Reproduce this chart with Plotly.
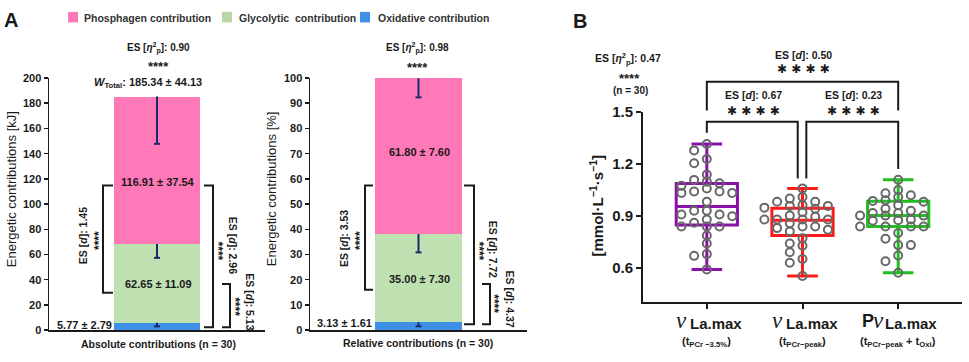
import numpy as np
import plotly.graph_objects as go

W, H = 969, 362
SANS = "Liberation Sans, Arial, sans-serif"
SERIF = "Liberation Serif, Times New Roman, serif"
INK = "#1a1a1a"

# ---------------- data ----------------
# Panel A: energetic contributions, stacked bottom -> top
systems = ["Oxidative contribution", "Glycolytic contribution", "Phosphagen contribution"]
abs_mean = [5.77, 62.65, 116.91]      # kJ
abs_sd = [2.79, 11.09, 37.54]
rel_mean = [3.13, 35.00, 61.80]       # %
rel_sd = [1.61, 7.30, 7.60]
w_total_mean = 185.34
w_total_sd = 44.13
abs_ticks = list(range(0, 201, 20))
rel_ticks = list(range(0, 101, 10))

# Panel B: vLa.max box plots (n = 30)
groups = [0, 1, 2]
box_q1 = [0.846, 0.785, 0.837]
box_median = [0.952, 0.874, 0.900]
box_q3 = [1.085, 0.943, 0.983]
box_min = [0.590, 0.552, 0.570]
box_max = [1.313, 1.057, 1.107]
pts_pcr35 = [1.313, 1.276, 1.226, 1.202, 1.137, 1.106, 1.096, 1.087, 1.072, 1.056,
             1.039, 1.039, 1.031, 1.031, 0.980, 0.928, 0.928, 0.906, 0.906, 0.896,
             0.878, 0.859, 0.837, 0.837, 0.837, 0.785, 0.739, 0.678, 0.668, 0.590]
pts_pcrpeak = [1.057, 1.007, 0.998, 0.980, 0.980, 0.961, 0.956, 0.956, 0.946, 0.940,
               0.920, 0.900, 0.893, 0.878, 0.878, 0.878, 0.878, 0.856, 0.837, 0.837,
               0.828, 0.818, 0.809, 0.770, 0.739, 0.726, 0.689, 0.650, 0.628, 0.552]
pts_oxi = [1.107, 1.048, 1.029, 1.017, 1.007, 0.989, 0.985, 0.980, 0.960, 0.939,
           0.928, 0.915, 0.915, 0.900, 0.900, 0.900, 0.878, 0.874, 0.870, 0.837,
           0.837, 0.837, 0.837, 0.800, 0.767, 0.730, 0.730, 0.670, 0.637, 0.570]
b_ticks = [0.6, 0.9, 1.2, 1.5]
b_prefix = ["", "", "P"]
b_sub = ["(t<sub>PCr −3.5%</sub>)", "(t<sub>PCr−peak</sub>)", "(t<sub>PCr−peak</sub> + t<sub>Oxi</sub>)"]

# ---------------- styling ----------------
sys_colors = ["#3d8fe8", "#bfe0b1", "#ff78b8"]
legend_colors = {"Phosphagen contribution": "#ff78b8",
                 "Glycolytic contribution": "#b9d6a6",
                 "Oxidative contribution": "#3d8fe8"}
box_colors = ["#8a11a6", "#ff1a1a", "#1fbf1f"]
ERR = "#1c2a6b"

def px_x(px):
    return px / W

def px_y(py):
    return 1 - py / H

# subplot geometry (pixels)
A1 = (49, 265)
A2 = (310, 527)
A_Y = (335, 72)
B_X = (643, 962)
B_Y = (306, 107)
b_range = [0.4, 1.5]
bx_range = [-0.667, 2.667]

fig = go.Figure()

# ---------------- Panel A bars ----------------
def add_stack(means, sds, xa, ya, ax_px):
    tops = np.cumsum(means)
    for m, c, name in zip(means, sys_colors, systems):
        fig.add_trace(go.Bar(x=[0], y=[m], width=[0.4], name=name,
                             marker=dict(color=c, line=dict(width=0)),
                             xaxis=xa, yaxis=ya, showlegend=False, hoverinfo="skip"))
    cap = 3.0 / (ax_px[1] - ax_px[0])
    ex, ey = [], []
    for t, s in zip(tops, sds):
        ex += [0, 0, None, -cap, cap, None]
        ey += [t, t - s, None, t - s, t - s, None]
    fig.add_trace(go.Scatter(x=ex, y=ey, mode="lines", line=dict(color=ERR, width=2),
                             xaxis=xa, yaxis=ya, showlegend=False, hoverinfo="skip"))

add_stack(abs_mean, abs_sd, "x", "y", A1)
add_stack(rel_mean, rel_sd, "x2", "y2", A2)

# ---------------- Panel B boxes ----------------
for g, col, q1, md, q3, lo, hi in zip(groups, box_colors, box_q1, box_median, box_q3, box_min, box_max):
    fig.add_trace(go.Box(x=[g], q1=[q1], median=[md], q3=[q3], lowerfence=[lo], upperfence=[hi],
                         width=0.64, whiskerwidth=0.5, boxpoints=False,
                         line=dict(color=col, width=3), fillcolor="rgba(0,0,0,0)",
                         xaxis="x3", yaxis="y3", showlegend=False, hoverinfo="skip"))

ppu_y = (B_Y[0] - B_Y[1]) / (b_range[1] - b_range[0])
ppu_x = (B_X[1] - B_X[0]) / (bx_range[1] - bx_range[0])

def swarm(values, step_px=12.7, min_dy=7.0):
    vals = np.asarray(values)
    order = np.argsort(-vals, kind="stable")
    placed = []
    offs = np.zeros(len(vals))
    for i in order:
        y = vals[i] * ppu_y
        for k in [0, -1, 1, -2, 2, -3, 3, -4, 4]:
            if all(not (pk == k and abs(py - y) < min_dy) for pk, py in placed):
                break
        placed.append((k, y))
        offs[i] = k * step_px / ppu_x
    return offs

for g, pts in zip(groups, [pts_pcr35, pts_pcrpeak, pts_oxi]):
    off = swarm(pts)
    fig.add_trace(go.Scatter(x=g + off, y=pts, mode="markers",
                             marker=dict(symbol="circle-open", size=8, color="#686868",
                                         line=dict(width=2)),
                             xaxis="x3", yaxis="y3", showlegend=False, hoverinfo="skip"))

# ---------------- shapes ----------------
shapes = []

def bracket_px(xv, xt, yt, yb):
    shapes.append(dict(type="path", xref="paper", yref="paper",
                       path=f"M{px_x(xt)},{px_y(yt)} L{px_x(xv)},{px_y(yt)} L{px_x(xv)},{px_y(yb)} L{px_x(xt)},{px_y(yb)}",
                       line=dict(color=INK, width=2)))

bracket_px(103, 113, 184, 296)
bracket_px(213, 204, 184, 332)
bracket_px(230, 222, 287, 332)
bracket_px(365, 373, 184, 293)
bracket_px(474, 464, 184, 329)
bracket_px(490, 482, 287, 329)

def bpath(points):
    d = " L".join(f"{x},{px_y(y)}" for x, y in points)
    shapes.append(dict(type="path", xref="x3", yref="paper", path="M" + d,
                       line=dict(color=INK, width=2)))

bpath([(0, 106), (0, 76), (2, 76), (2, 106)])
bpath([(0, 129), (0, 117.7), (0.95, 117.7), (0.95, 176.7)])
bpath([(1.04, 176.7), (1.04, 117.7), (2, 117.7), (2, 167)])

# legend squares
for (x0, col) in [(68, legend_colors["Phosphagen contribution"]),
                  (222, legend_colors["Glycolytic contribution"]),
                  (360, legend_colors["Oxidative contribution"])]:
    shapes.append(dict(type="rect", xref="paper", yref="paper",
                       x0=px_x(x0), x1=px_x(x0 + 10), y0=px_y(14), y1=px_y(3),
                       fillcolor=col, line=dict(width=0)))

# ---------------- annotations ----------------
anns = []

def ann(text, x, y, size=10.5, bold=True, angle=0, xanchor="center", family=SANS, color=INK):
    anns.append(dict(text=text, x=px_x(x), y=px_y(y), xref="paper", yref="paper",
                     showarrow=False, textangle=angle, xanchor=xanchor, yanchor="middle",
                     font=dict(size=size, family=family, color=color,
                               weight="bold" if bold else "normal")))

def ann_cat(text, g, y, xshift, size, bold=True, family=SANS, xanchor="center", italic=False):
    anns.append(dict(text=text, x=g, y=px_y(y), xref="x3", yref="paper", xshift=xshift,
                     showarrow=False, xanchor=xanchor, yanchor="middle",
                     font=dict(size=size, family=family, color=INK,
                               weight="bold" if bold else "normal",
                               style="italic" if italic else "normal")))

ETA = '<i>η</i><sup>2</sup><sub>p</sub>'
D = '<i>d</i>'

ann("A", 11, 11, size=20)
ann("B", 580, 12, size=20)

ann("Phosphagen contribution", 82, 9, size=10.5, xanchor="left", color="#333")
ann("Glycolytic\u00a0 contribution", 237, 9, size=10.5, xanchor="left", color="#333")
ann("Oxidative contribution", 376, 9, size=10.5, xanchor="left", color="#333")

# left chart
ann(f"ES [{ETA}]: 0.90", 158, 41, size=10)
ann("****", 158, 60, size=13)
ann(f"<i>W</i><sub>Total</sub>: {w_total_mean:.2f} ± {w_total_sd:.2f}", 148, 77, size=11)
ann(f"{abs_mean[2]:.2f} ± {abs_sd[2]:.2f}", 158, 180, size=11)
ann(f"{abs_mean[1]:.2f} ± {abs_sd[1]:.2f}", 158, 287, size=11)
ann(f"{abs_mean[0]:.2f} ± {abs_sd[0]:.2f}", 114, 330, size=11, xanchor="right")
ann(f"ES [{D}]: 1.45", 83, 237, size=10.5, angle=-90)
ann("****", 99, 242, size=12, angle=-90)
ann(f"ES [{D}]: 2.96", 233, 246, size=10.5, angle=90)
ann("****", 218, 252, size=12, angle=90)
ann(f"ES [{D}]: 5.13", 250, 305, size=10.5, angle=90)
ann("****", 235, 310, size=12, angle=90)
ann("Energetic contributions [kJ]", 11, 188, size=13, angle=-90, bold=False)
ann("Absolute contributions (n = 30)", 158, 349, size=10.5)

# right chart
ann(f"ES [{ETA}]: 0.98", 417, 41, size=10)
ann("****", 417, 61, size=13)
ann(f"{rel_mean[2]:.2f} ± {rel_sd[2]:.2f}", 419, 149, size=11)
ann(f"{rel_mean[1]:.2f} ± {rel_sd[1]:.2f}", 419, 282, size=11)
ann(f"{rel_mean[0]:.2f} ± {rel_sd[0]:.2f}", 374, 328, size=11, xanchor="right")
ann(f"ES [{D}]: 3.53", 344, 240, size=10.5, angle=-90)
ann("****", 360, 242, size=12, angle=-90)
ann(f"ES [{D}]: 7.72", 493, 250, size=10.5, angle=90)
ann("****", 479, 252, size=12, angle=90)
ann(f"ES [{D}]: 4.37", 510, 302, size=10.5, angle=90)
ann("****", 494, 308, size=12, angle=90)
ann("Energetic contributions [%]", 271, 188, size=13, angle=-90, bold=False)
ann("Relative contributions (n = 30)", 418, 348, size=10.5)

# panel B
ann(f"ES [{ETA}]: 0.47", 628, 52, size=10.5)
ann("****", 629, 73, size=13)
ann("(n = 30)", 630, 85, size=10)
ann(f"ES [{D}]: 0.50", 803, 48, size=10.5)
ann("✱ ✱ ✱ ✱", 803, 63, size=12, family="DejaVu Sans")
ann(f"ES [{D}]: 0.67", 753, 90, size=10.5)
ann("✱ ✱ ✱ ✱", 753, 106, size=12, family="DejaVu Sans")
ann(f"ES [{D}]: 0.23", 853, 90, size=10.5)
ann("✱ ✱ ✱ ✱", 853, 106, size=12, family="DejaVu Sans")
ann("[mmol·L<sup>−1</sup>·s<sup>−1</sup>]", 596, 206, size=15, angle=-90)

# category labels of panel B: prefix (P) + italic serif nu + bold "La.max", then sub-line
for g, pre, sub in zip(groups, b_prefix, b_sub):
    base = -19 if not pre else -15
    if pre:
        ann_cat(pre, g, 326, -30, 18, bold=True)
        ann_cat("ν", g, 325, -20, 23, bold=False, family=SERIF, italic=True)
    else:
        ann_cat("ν", g, 325, -25, 23, bold=False, family=SERIF, italic=True)
    ann_cat("La.max", g, 328, base, 15, bold=True, xanchor="left")
    ann_cat(sub, g, 347, 0, 11, bold=True)

# ---------------- layout ----------------
axis_common = dict(showgrid=False, zeroline=False, showline=True, linecolor=INK, fixedrange=True)
tickfont_a = dict(family=SANS, size=11, color=INK, weight="bold")

fig.update_layout(
    width=W, height=H, autosize=False,
    margin=dict(l=0, r=0, t=0, b=0),
    paper_bgcolor="white", plot_bgcolor="white",
    barmode="stack", showlegend=False,
    xaxis=dict(domain=[px_x(A1[0]), px_x(A1[1])], range=[-0.5, 0.5], anchor="y",
               showticklabels=False, ticks="", linewidth=1.5, **axis_common),
    yaxis=dict(domain=[px_y(A_Y[0]), px_y(A_Y[1])], range=[0, 200], anchor="x",
               tickvals=abs_ticks, ticks="outside", ticklen=4, tickwidth=1.5, tickcolor=INK,
               tickfont=tickfont_a, linewidth=1.5, **axis_common),
    xaxis2=dict(domain=[px_x(A2[0]), px_x(A2[1])], range=[-0.5, 0.5], anchor="y2",
                showticklabels=False, ticks="", linewidth=1.5, **axis_common),
    yaxis2=dict(domain=[px_y(A_Y[0]), px_y(A_Y[1])], range=[0, 100], anchor="x2",
                tickvals=rel_ticks, ticks="outside", ticklen=4, tickwidth=1.5, tickcolor=INK,
                tickfont=tickfont_a, linewidth=1.5, **axis_common),
    xaxis3=dict(domain=[px_x(B_X[0]), px_x(B_X[1])], range=bx_range, anchor="y3",
                tickvals=groups, showticklabels=False, ticks="outside", ticklen=5, tickwidth=2,
                tickcolor=INK, linewidth=2, **axis_common),
    yaxis3=dict(domain=[px_y(B_Y[0]), px_y(B_Y[1])], range=b_range, anchor="x3",
                tickvals=b_ticks, ticktext=[f"{v:.1f}" for v in b_ticks],
                ticks="outside", ticklen=5, tickwidth=2, tickcolor=INK,
                tickfont=dict(family=SANS, size=15, color=INK, weight="bold"),
                linewidth=2, **axis_common),
    shapes=shapes,
    annotations=anns,
)

fig.write_html("out.html", config={"displayModeBar": False, "staticPlot": True},
               post_script="document.body.style.margin='0';document.body.style.padding='0';"
                           "document.documentElement.style.overflow='hidden';")
